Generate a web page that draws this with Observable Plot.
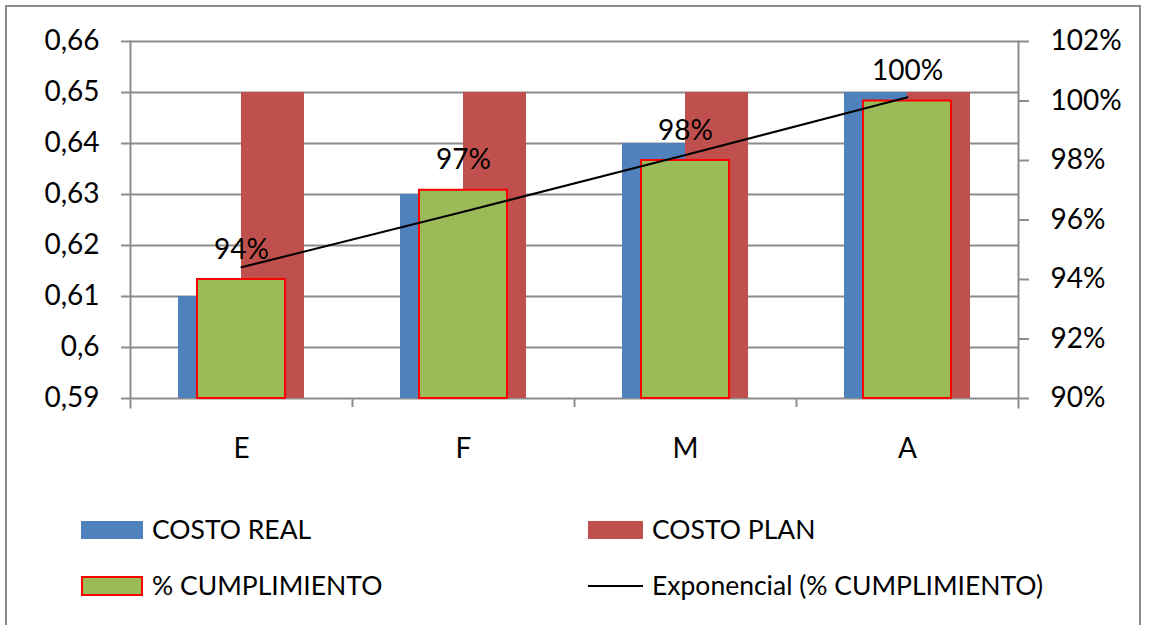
<!DOCTYPE html>
<html>
<head>
<meta charset="utf-8">
<script src="https://cdn.jsdelivr.net/npm/d3@7"></script>
<script src="https://cdn.jsdelivr.net/npm/@observablehq/plot@0.6"></script>
<style>
  html, body { margin: 0; padding: 0; background: #fff; }
  #wrap { position: relative; width: 1150px; height: 625px; overflow: hidden; font-family: Lato, "Open Sans", sans-serif; }
  #border { position: absolute; left: 5px; top: 5px; width: 1136px; height: 630px; border: 2px solid #8c8c8c; box-sizing: border-box; }
  #chart { position: absolute; left: 0; top: 0; }
  .sw { position: absolute; box-sizing: border-box; }
  .lt { position: absolute; font-size: 26.5px; line-height: 30px; color: #000; white-space: nowrap; }
</style>
</head>
<body>
<div id="wrap">
  <div id="border"></div>
  <div id="chart"></div>
  <div id="legend"></div>
</div>
<script>
const categories = ["E", "F", "M", "A"];
const costoReal = [0.61, 0.63, 0.64, 0.65];
const costoPlan = [0.65, 0.65, 0.65, 0.65];
const cumplimiento = [0.94, 0.97, 0.98, 1.00];
const leftTicks = [0.59, 0.60, 0.61, 0.62, 0.63, 0.64, 0.65, 0.66];
const rightTicks = [0.90, 0.92, 0.94, 0.96, 0.98, 1.00, 1.02];
const leftDomain = [0.59, 0.66];
const rightDomain = [0.90, 1.02];
const legendItems = ["COSTO REAL", "COSTO PLAN", "% CUMPLIMIENTO", "Exponencial (% CUMPLIMIENTO)"];

const BLUE = "#4F81BD", RED = "#C0504D", GREEN = "#9BBB59", OUTLINE = "#FF0000", GRID = "#8c8c8c";

// map secondary-axis values (percent) onto primary-axis space
const toLeft = p => leftDomain[0] + (p - rightDomain[0]) * (leftDomain[1] - leftDomain[0]) / (rightDomain[1] - rightDomain[0]);
const toRight = v => rightDomain[0] + (v - leftDomain[0]) * (rightDomain[1] - rightDomain[0]) / (leftDomain[1] - leftDomain[0]);

// exponential trend fit y = a*exp(b*x), x = 1..n
const xs = cumplimiento.map((_, i) => i + 1);
const ly = cumplimiento.map(v => Math.log(v));
const mx = d3.mean(xs), my = d3.mean(ly);
const b = d3.sum(xs.map((x, i) => (x - mx) * (ly[i] - my))) / d3.sum(xs.map(x => (x - mx) ** 2));
const lnA = my - b * mx;
const trend = x => Math.exp(lnA + b * x);

const data = categories.map((c, i) => ({
  cat: c, real: costoReal[i], plan: costoPlan[i], pct: cumplimiento[i], trend: trend(i + 1)
}));

const fmtLeft = d => String(+d.toFixed(2)).replace(".", ",");
const fmtPct = d => Math.round(d * 100) + "%";

const chart = Plot.plot({
  width: 1150,
  height: 470,
  marginLeft: 130,
  marginRight: 132,
  marginTop: 41,
  marginBottom: 72,
  style: { fontFamily: "Lato, 'Open Sans', sans-serif", fontSize: "28px", color: "#000", background: "transparent", overflow: "visible" },
  x: { domain: categories, padding: 0, axis: null },
  y: { domain: leftDomain, axis: null },
  marks: [
    Plot.ruleY(leftTicks, { y: d => d, stroke: GRID, strokeWidth: 2 }),
    Plot.barY(data, { x: "cat", y1: leftDomain[0], y2: "real", fill: BLUE, insetLeft: 48, insetRight: 111 }),
    Plot.barY(data, { x: "cat", y1: leftDomain[0], y2: "plan", fill: RED, insetLeft: 111, insetRight: 48 }),
    Plot.barY(data, { x: "cat", y1: d => toLeft(rightDomain[0]), y2: d => toLeft(d.pct), fill: GREEN, stroke: OUTLINE, strokeWidth: 2, insetLeft: 67, insetRight: 67 }),
    Plot.line(data, { x: "cat", y: d => toLeft(d.trend), stroke: "#000", strokeWidth: 2, curve: "monotone-x" }),
    Plot.text(data, { x: "cat", y: d => toLeft(d.pct), text: d => fmtPct(d.pct), lineAnchor: "bottom", dy: -21, fill: "#000", fontSize: 28 }),
    Plot.frame({ anchor: "left", stroke: GRID, strokeWidth: 2, insetBottom: -9 }),
    Plot.frame({ anchor: "right", stroke: GRID, strokeWidth: 2, insetBottom: -9 }),
    Plot.ruleX(categories.slice(1), { x: d => d, dx: -111, y1: leftDomain[0], y2: leftDomain[0], insetBottom: -9, stroke: GRID, strokeWidth: 2 }),
    Plot.axisY(leftTicks, { anchor: "left", tickSize: 9, tickPadding: 22, tickFormat: fmtLeft, stroke: GRID, strokeWidth: 2, fill: "#000", fontSize: 28 }),
    Plot.axisY(rightTicks.map(toLeft), { anchor: "right", tickSize: 10, tickPadding: 22, tickFormat: d => fmtPct(toRight(d)), stroke: GRID, strokeWidth: 2, fill: "#000", fontSize: 28 }),
    Plot.axisX(categories, { anchor: "bottom", tickSize: 0, tickPadding: 40, fill: "#000", fontSize: 28, label: null })
  ]
});
document.getElementById("chart").appendChild(chart);

// legend
const legend = document.getElementById("legend");
const items = [
  { label: legendItems[0], kind: "bar", fill: BLUE, x: 81, y: 530 },
  { label: legendItems[1], kind: "bar", fill: RED, x: 588, y: 530 },
  { label: legendItems[2], kind: "outlined", fill: GREEN, x: 81, y: 586 },
  { label: legendItems[3], kind: "line", fill: "#000", x: 588, y: 586 }
];
items.forEach(it => {
  const sw = document.createElement("div");
  sw.className = "sw";
  const w = it.x < 300 ? 62 : 55;
  if (it.kind === "line") {
    Object.assign(sw.style, { left: it.x + "px", top: (it.y - 1) + "px", width: w + "px", height: "2px", background: it.fill });
  } else if (it.kind === "outlined") {
    Object.assign(sw.style, { left: it.x + "px", top: (it.y - 10) + "px", width: w + "px", height: "20px", background: it.fill, border: "2px solid " + OUTLINE });
  } else {
    Object.assign(sw.style, { left: it.x + "px", top: (it.y - 9) + "px", width: w + "px", height: "18px", background: it.fill });
  }
  legend.appendChild(sw);
  const t = document.createElement("div");
  t.className = "lt";
  t.textContent = it.label;
  Object.assign(t.style, { left: (it.x < 300 ? 152 : 652) + "px", top: (it.y - 16) + "px" });
  legend.appendChild(t);
});
</script>
</body>
</html>
